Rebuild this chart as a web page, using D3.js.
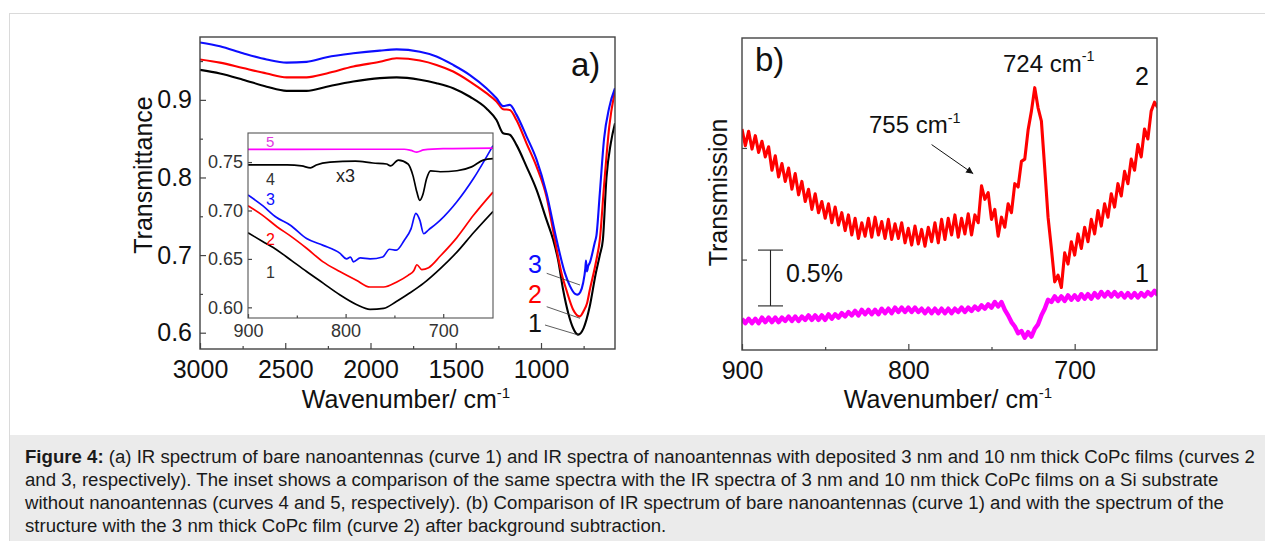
<!DOCTYPE html>
<html>
<head>
<meta charset="utf-8">
<script src="https://cdn.jsdelivr.net/npm/d3@7"></script>
<style>
  body { margin: 0; background: #fff; }
  svg { display: block; }
  text { font-family: "Liberation Sans", Arial, Helvetica, sans-serif; }
</style>
</head>
<body>
<svg id="fig" width="1265" height="541"></svg>
<script>
// ---------- Panel a: IR spectra [wavenumber cm^-1, transmittance] ----------
const curve1 = [[3000,0.9386],[2883,0.934],[2748,0.926],[2609,0.917],[2492,0.9116],[2375,0.9116],[2257,0.917],[2101,0.9236],[1945,0.928],[1847,0.929],[1710,0.926],[1613,0.9215],[1515,0.915],[1417,0.904],[1320,0.889],[1261,0.874],[1222,0.857],[1183,0.855],[1144,0.842],[1085,0.814],[1026,0.784],[968,0.7456],[929,0.72],[900,0.694],[870,0.655],[840,0.625],[812,0.606],[783,0.5975],[750,0.606],[714,0.634],[680,0.675],[655,0.70],[637,0.72],[616,0.80],[590,0.845],[566,0.870]];
const curve2 = [[3000,0.952],[2883,0.948],[2748,0.941],[2609,0.934],[2492,0.929],[2375,0.929],[2257,0.934],[2101,0.943],[1945,0.949],[1847,0.9536],[1710,0.9506],[1613,0.945],[1515,0.9365],[1417,0.9236],[1320,0.9086],[1261,0.898],[1222,0.888],[1183,0.887],[1144,0.874],[1085,0.844],[1026,0.814],[968,0.7756],[919,0.72],[880,0.677],[851,0.655],[812,0.630],[773,0.621],[750,0.628],[730,0.638],[714,0.655],[675,0.694],[655,0.72],[630,0.79],[600,0.865],[566,0.912]];
const curve3 = [[3000,0.974],[2883,0.969],[2748,0.960],[2609,0.952],[2492,0.948],[2375,0.949],[2257,0.955],[2101,0.960],[1945,0.9635],[1847,0.965],[1710,0.962],[1613,0.956],[1515,0.945],[1417,0.932],[1320,0.915],[1261,0.902],[1222,0.892],[1183,0.8936],[1144,0.881],[1085,0.853],[1026,0.823],[968,0.780],[909,0.72],[860,0.677],[830,0.660],[800,0.650],[785,0.649],[770,0.652],[753,0.664],[740,0.683],[736,0.693],[731,0.679],[723,0.686],[714,0.690],[685,0.716],[675,0.725],[655,0.78],[630,0.85],[600,0.89],[566,0.915]];
const mainXTicks = [3000, 2500, 2000, 1500, 1000];
const mainXMinor = [2750, 2250, 1750, 1250, 750];
const mainYTicks = [0.6, 0.7, 0.8, 0.9];
const mainYMinor = [0.65, 0.75, 0.85, 0.95];

// ---------- Inset of panel a: 900-650 cm^-1 ----------
const inset1 = [[900,0.677],[885,0.668],[870,0.659],[855,0.648],[840,0.637],[823,0.625],[806,0.613],[789,0.603],[775,0.598],[761,0.599],[748,0.606],[734,0.615],[720,0.625],[703,0.640],[686,0.657],[669,0.677],[649,0.699]];
const inset2 = [[900,0.705],[885,0.695],[870,0.683],[857,0.674],[840,0.661],[823,0.647],[806,0.637],[789,0.628],[775,0.621],[761,0.621],[748,0.626],[736,0.633],[730,0.638],[727,0.644],[722,0.639],[715,0.641],[703,0.653],[686,0.672],[669,0.695],[649,0.719]];
const inset3 = [[900,0.716],[885,0.705],[871,0.693],[857,0.685],[840,0.671],[823,0.664],[806,0.656],[799,0.650],[795,0.652],[792,0.647],[785,0.651],[775,0.650],[762,0.652],[755,0.660],[748,0.659],[740,0.669],[733,0.681],[728,0.697],[724,0.690],[720,0.676],[715,0.680],[703,0.690],[686,0.709],[669,0.733],[649,0.767]];
const inset4 = [[900,0.747],[880,0.747],[860,0.747],[845,0.746],[836,0.744],[830,0.747],[816,0.750],[790,0.751],[772,0.749],[758,0.748],[754,0.746],[746,0.752],[736,0.748],[731,0.736],[727,0.719],[724,0.7105],[721,0.716],[717,0.733],[713,0.741],[703,0.740],[686,0.741],[671,0.745],[659,0.752],[649,0.7535]];
const inset5 = [[900,0.763],[850,0.763],[800,0.7632],[740,0.7632],[733,0.762],[727,0.7603],[720,0.7625],[700,0.7638],[649,0.7644]];
const insetXTicks = [900, 800, 700];
const insetXMinor = [850, 750];
const insetYTicks = [0.60, 0.65, 0.70, 0.75];

// ---------- Panel b: background-subtracted spectra, 900 -> 650 cm^-1 every 2 cm^-1 (in %) ----------
const bStart = 900, bStep = 2;
const bCurve2 = [
  2.17,2.02,2.15,1.99,2.11,1.96,2.06,1.92,2.01,1.80,
  1.93,1.74,1.86,1.70,1.82,1.63,1.77,1.58,1.70,1.52,
  1.63,1.45,1.59,1.42,1.52,1.37,1.50,1.33,1.47,1.31,
  1.42,1.26,1.40,1.22,1.37,1.19,1.33,1.21,1.37,1.20,
  1.38,1.22,1.34,1.19,1.36,1.18,1.32,1.19,1.33,1.15,
  1.28,1.13,1.30,1.14,1.27,1.12,1.29,1.16,1.33,1.15,
  1.36,1.18,1.37,1.22,1.40,1.20,1.37,1.23,1.41,1.22,
  1.40,1.33,1.66,1.54,1.60,1.36,1.45,1.21,1.38,1.29,
  1.50,1.42,1.68,1.65,1.88,1.90,2.16,2.33,2.54,2.36,
  2.24,1.82,1.38,1.10,0.80,0.86,0.75,1.06,0.96,1.16,
  1.04,1.23,1.10,1.29,1.16,1.36,1.23,1.44,1.30,1.50,
  1.38,1.59,1.47,1.68,1.57,1.79,1.68,1.90,1.80,2.03,
  1.92,2.17,2.08,2.33,2.41,2.36];
const bCurve1 = [
  0.47,0.43,0.47,0.43,0.47,0.43,0.48,0.44,0.48,0.44,
  0.48,0.44,0.48,0.45,0.49,0.45,0.49,0.45,0.49,0.46,
  0.50,0.46,0.50,0.46,0.50,0.46,0.51,0.47,0.51,0.48,
  0.52,0.49,0.53,0.50,0.54,0.50,0.55,0.51,0.55,0.51,
  0.55,0.51,0.56,0.52,0.56,0.52,0.57,0.53,0.57,0.53,
  0.57,0.53,0.57,0.53,0.56,0.52,0.56,0.52,0.56,0.52,
  0.56,0.52,0.56,0.52,0.56,0.53,0.57,0.53,0.57,0.54,
  0.58,0.55,0.59,0.56,0.60,0.57,0.62,0.58,0.62,0.55,
  0.50,0.44,0.40,0.34,0.36,0.30,0.35,0.31,0.38,0.42,
  0.50,0.56,0.64,0.62,0.67,0.63,0.67,0.63,0.68,0.64,
  0.68,0.64,0.69,0.65,0.69,0.65,0.70,0.66,0.71,0.67,
  0.71,0.67,0.71,0.67,0.70,0.66,0.70,0.66,0.70,0.66,
  0.70,0.67,0.71,0.68,0.72,0.68];
const bXTicks = [900, 800, 700];
const bXMinor = [850, 750];
const bYTicks = [1, 2];

const captionLines = [
  "(a) IR spectrum of bare nanoantennas (curve 1) and IR spectra of nanoantennas with deposited 3 nm and 10 nm thick CoPc films (curves 2",
  "and 3, respectively). The inset shows a comparison of the same spectra with the IR spectra of 3 nm and 10 nm thick CoPc films on a Si substrate",
  "without nanoantennas (curves 4 and 5, respectively). (b) Comparison of IR spectrum of bare nanoantennas (curve 1) and with the spectrum of the",
  "structure with the 3 nm thick CoPc film (curve 2) after background subtraction."
];

// ---------- drawing ----------
const FONT = '"Liberation Sans", Arial, Helvetica, sans-serif';
const AXIS = "#444";
const BLUE = "#0d0dff", RED = "#ff0000", MAG = "#ff00ff";
const svg = d3.select("#fig");

svg.append("rect").attr("width", 1265).attr("height", 541).attr("fill", "#fff");
svg.append("line").attr("x1", 9).attr("x2", 1265).attr("y1", 13.5).attr("y2", 13.5).attr("stroke", "#dadada");
svg.append("line").attr("x1", 9.5).attr("x2", 9.5).attr("y1", 13).attr("y2", 541).attr("stroke", "#dadada");
svg.append("rect").attr("x", 10).attr("y", 435).attr("width", 1255).attr("height", 106).attr("fill", "#ebebeb");

function styleAxis(g, size, color) {
  g.select(".domain").remove();
  g.attr("font-family", FONT).attr("font-size", size);
  g.selectAll(".tick line").attr("stroke", AXIS).attr("stroke-width", 1.2);
  g.selectAll(".tick text").attr("fill", color);
}
function cmText(sel, prefix, size) {
  sel.text(prefix + " cm");
  sel.append("tspan").attr("dy", -size * 0.42).attr("font-size", size * 0.6).text("-1");
}

// Panel a scales
const ax = d3.scaleLinear().domain([3000, 566]).range([200, 615]);
const ay = d3.scaleLinear().domain([0.579, 0.981]).range([349, 37]);
const gA = svg.append("g");

gA.append("g").attr("transform", "translate(0,349)")
  .call(d3.axisBottom(ax).tickValues(mainXTicks).tickSize(-6).tickPadding(11).tickFormat(d3.format("d")))
  .call(g => styleAxis(g, 25, "#111"));
gA.append("g").attr("transform", "translate(0,349)")
  .call(d3.axisBottom(ax).tickValues(mainXMinor).tickSize(-3).tickFormat(""))
  .call(g => styleAxis(g, 25, "#111"));
gA.append("g").attr("transform", "translate(200,0)")
  .call(d3.axisLeft(ay).tickValues(mainYTicks).tickSize(-6).tickPadding(8).tickFormat(d3.format(".1f")))
  .call(g => styleAxis(g, 25, "#111"));
gA.append("g").attr("transform", "translate(200,0)")
  .call(d3.axisLeft(ay).tickValues(mainYMinor).tickSize(-3).tickFormat(""))
  .call(g => styleAxis(g, 25, "#111"));

svg.append("clipPath").attr("id", "clipA").append("rect").attr("x", 200).attr("y", 37).attr("width", 415).attr("height", 312);
const lineA = d3.line().x(d => ax(d[0])).y(d => ay(d[1])).curve(d3.curveMonotoneX);
const mainSeries = [[curve1, "#000"], [curve2, RED], [curve3, BLUE]];
gA.append("g").attr("clip-path", "url(#clipA)").selectAll("path").data(mainSeries).join("path")
  .attr("d", d => lineA(d[0])).attr("fill", "none").attr("stroke", d => d[1]).attr("stroke-width", 2.1);

gA.append("rect").attr("x", 200).attr("y", 37).attr("width", 415).attr("height", 312)
  .attr("fill", "none").attr("stroke", AXIS).attr("stroke-width", 1.4);

// curve labels with leader lines
const aLabels = [["3", BLUE, 273, [546.7, 273.3, 580, 285]], ["2", RED, 303, [546.7, 306.7, 580, 318.3]], ["1", "#111", 331.7, [545, 325, 578.3, 335]]];
aLabels.forEach(([t, c, yb, l]) => {
  gA.append("text").attr("x", 528).attr("y", yb).attr("font-size", 25).attr("fill", c).text(t);
  gA.append("line").attr("x1", l[0]).attr("y1", l[1]).attr("x2", l[2]).attr("y2", l[3]).attr("stroke", "#333").attr("stroke-width", 0.8);
});
gA.append("text").attr("x", 571).attr("y", 76).attr("font-size", 33).attr("fill", "#111").text("a)");
gA.append("text").attr("transform", "translate(151.5,175) rotate(-90)").attr("text-anchor", "middle")
  .attr("font-size", 25).attr("fill", "#111").text("Transmittance");
gA.append("text").attr("x", 406).attr("y", 408).attr("text-anchor", "middle").attr("font-size", 25).attr("fill", "#111")
  .call(s => cmText(s, "Wavenumber/", 25));

// Inset
const ix = d3.scaleLinear().domain([900, 649]).range([248, 493]);
const iy = d3.scaleLinear().domain([0.589, 0.780]).range([318, 133]);
const gI = svg.append("g");
gI.append("rect").attr("x", 248).attr("y", 133).attr("width", 245).attr("height", 185).attr("fill", "#fff");
gI.append("g").attr("transform", "translate(0,318)")
  .call(d3.axisBottom(ix).tickValues(insetXTicks).tickSize(-4).tickPadding(6).tickFormat(d3.format("d")))
  .call(g => styleAxis(g, 18, "#333"));
gI.append("g").attr("transform", "translate(0,318)")
  .call(d3.axisBottom(ix).tickValues(insetXMinor).tickSize(-2.5).tickFormat(""))
  .call(g => styleAxis(g, 18, "#333"));
gI.append("g").attr("transform", "translate(248,0)")
  .call(d3.axisLeft(iy).tickValues(insetYTicks).tickSize(-4).tickPadding(5).tickFormat(d3.format(".2f")))
  .call(g => styleAxis(g, 18, "#333"));
svg.append("clipPath").attr("id", "clipI").append("rect").attr("x", 248).attr("y", 133).attr("width", 245).attr("height", 185);
const lineI = d3.line().x(d => ix(d[0])).y(d => iy(d[1])).curve(d3.curveMonotoneX);
const insetSeries = [[inset1, "#000"], [inset2, RED], [inset3, BLUE], [inset4, "#000"], [inset5, MAG]];
gI.append("g").attr("clip-path", "url(#clipI)").selectAll("path").data(insetSeries).join("path")
  .attr("d", d => lineI(d[0])).attr("fill", "none").attr("stroke", d => d[1]).attr("stroke-width", 1.7);
gI.append("rect").attr("x", 248).attr("y", 133).attr("width", 245).attr("height", 185)
  .attr("fill", "none").attr("stroke", "#555").attr("stroke-width", 1.1);
const iLabels = [["5", "#e03ce0", 146.5, 15], ["4", "#333", 185, 16], ["3", BLUE, 205, 16], ["2", RED, 245, 16], ["1", "#333", 278, 16]];
iLabels.forEach(([t, c, yb, fs]) => gI.append("text").attr("x", 266).attr("y", yb).attr("font-size", fs).attr("fill", c).text(t));
gI.append("text").attr("x", 336).attr("y", 182).attr("font-size", 18).attr("fill", "#222").text("x3");

// Panel b
const bx = d3.scaleLinear().domain([900, 650.5]).range([742, 1157]);
const by = d3.scaleLinear().domain([0.19, 2.985]).range([350, 38]);
const gB = svg.append("g");
gB.append("g").attr("transform", "translate(0,350)")
  .call(d3.axisBottom(bx).tickValues(bXTicks).tickSize(-6).tickPadding(11).tickFormat(d3.format("d")))
  .call(g => styleAxis(g, 25, "#111"));
gB.append("g").attr("transform", "translate(0,350)")
  .call(d3.axisBottom(bx).tickValues(bXMinor).tickSize(-3).tickFormat(""))
  .call(g => styleAxis(g, 25, "#111"));
gB.append("g").attr("transform", "translate(742,0)")
  .call(d3.axisLeft(by).tickValues(bYTicks).tickSize(-5).tickFormat(""))
  .call(g => styleAxis(g, 25, "#111"));

svg.append("clipPath").attr("id", "clipB").append("rect").attr("x", 742).attr("y", 38).attr("width", 415).attr("height", 312);
const lineB = d3.line().x((d, i) => bx(bStart - i * bStep)).y(d => by(d));
const gBL = gB.append("g").attr("clip-path", "url(#clipB)");
gBL.append("path").attr("d", lineB(bCurve1)).attr("fill", "none").attr("stroke", MAG).attr("stroke-width", 4.4).attr("stroke-linejoin", "round");
gBL.append("path").attr("d", lineB(bCurve2)).attr("fill", "none").attr("stroke", RED).attr("stroke-width", 3.1).attr("stroke-linejoin", "round");
gB.append("rect").attr("x", 742).attr("y", 38).attr("width", 415).attr("height", 312)
  .attr("fill", "none").attr("stroke", AXIS).attr("stroke-width", 1.4);

// 0.5 % scale bar
const barX = 770.5, barLo = 0.585, barHi = 1.085;
gB.append("line").attr("x1", barX).attr("x2", barX).attr("y1", by(barLo)).attr("y2", by(barHi)).attr("stroke", "#222").attr("stroke-width", 1.1);
[barLo, barHi].forEach(v => gB.append("line").attr("x1", barX - 12.5).attr("x2", barX + 12.5).attr("y1", by(v)).attr("y2", by(v)).attr("stroke", "#222").attr("stroke-width", 1.1));
gB.append("text").attr("x", 786).attr("y", 281.5).attr("font-size", 25).attr("fill", "#111").text("0.5%");

// peak annotations
svg.append("defs").append("marker").attr("id", "arrowhead").attr("viewBox", "0 0 10 10").attr("refX", 10).attr("refY", 5)
  .attr("markerWidth", 11).attr("markerHeight", 7).attr("markerUnits", "userSpaceOnUse").attr("orient", "auto")
  .append("path").attr("d", "M0,0 L10,5 L0,10 z").attr("fill", "#111");
gB.append("line").attr("x1", bx(786)).attr("y1", by(2.03)).attr("x2", bx(761)).attr("y2", by(1.77))
  .attr("stroke", "#111").attr("stroke-width", 1).attr("marker-end", "url(#arrowhead)");
gB.append("text").attr("x", 869).attr("y", 133).attr("font-size", 24).attr("fill", "#111").call(s => cmText(s, "755", 24));
gB.append("text").attr("x", 1003).attr("y", 71.5).attr("font-size", 24).attr("fill", "#111").call(s => cmText(s, "724", 24));
gB.append("text").attr("x", 1135).attr("y", 85).attr("font-size", 25).attr("fill", "#111").text("2");
gB.append("text").attr("x", 1135).attr("y", 281.5).attr("font-size", 25).attr("fill", "#111").text("1");
gB.append("text").attr("x", 755).attr("y", 71).attr("font-size", 33).attr("fill", "#111").text("b)");
gB.append("text").attr("transform", "translate(726.5,192.5) rotate(-90)").attr("text-anchor", "middle")
  .attr("font-size", 25).attr("fill", "#111").text("Transmission");
gB.append("text").attr("x", 948).attr("y", 408).attr("text-anchor", "middle").attr("font-size", 25).attr("fill", "#111")
  .call(s => cmText(s, "Wavenumber/", 25));

// Caption
const gC = svg.append("g").attr("font-family", FONT).attr("fill", "#1a1a1a");
const capBase = [462.5, 485.8, 509.1, 532.4];
const capTexts = captionLines.map((t, i) => {
  const el = gC.append("text").attr("x", 25).attr("y", capBase[i]).attr("font-size", 16);
  if (i === 0) {
    el.append("tspan").attr("font-weight", "bold").text("Figure 4:");
    el.append("tspan").text(" " + t);
  } else {
    el.text(t);
  }
  return el;
});
// size the caption so the first line spans the caption box width
const w0 = capTexts[0].node().getComputedTextLength();
const fs = 16 * 1231 / w0;
capTexts.forEach(el => el.attr("font-size", fs));
</script>
</body>
</html>
